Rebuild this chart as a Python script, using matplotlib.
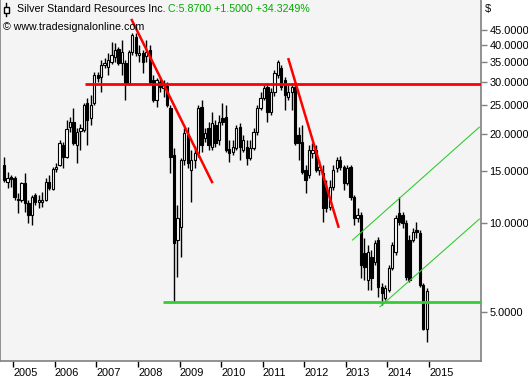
import matplotlib.pyplot as plt
import numpy as np
import pandas as pd
from matplotlib.patches import Rectangle
from matplotlib.lines import Line2D
from matplotlib.ticker import NullLocator

plt.rcParams['font.family'] = ['Liberation Sans', 'DejaVu Sans']

# Silver Standard Resources, monthly candles Oct 2004 - Dec 2014
opens = [15.71, 13.76, 14.31, 14.20, 11.96, 11.96, 13.65, 11.69, 10.64, 12.44, 11.78, 11.78,
         11.96, 13.76, 13.03, 15.23, 15.71, 18.36, 16.72, 21.12, 21.97, 18.36, 20.47, 20.63,
         25.47, 22.65, 25.47, 31.67, 31.19, 34.23, 33.71, 35.04, 36.44, 38.78, 34.76, 34.76,
         29.76, 37.88, 42.56, 37.00, 37.59, 36.72, 38.47, 30.46, 26.06, 29.99, 28.63, 29.07,
         24.49, 16.98, 8.76, 9.70, 16.34, 19.85, 15.11, 16.34, 17.25, 24.69, 19.39, 20.96,
         18.08, 21.45, 19.09, 22.65, 22.83, 17.80, 17.39, 17.93, 21.12, 17.66, 18.08, 16.59,
         17.93, 20.32, 24.49, 26.48, 28.85, 23.74, 27.75, 31.67, 33.45, 30.46, 26.68, 27.75,
         28.85, 19.85, 18.80, 15.11, 14.53, 17.25, 17.66, 15.11, 14.76, 13.24, 11.33, 13.24,
         15.35, 16.34, 15.47, 13.65, 15.47, 12.25, 10.40, 10.64, 7.91, 6.41, 7.67, 7.38,
         8.76, 6.07, 5.58, 5.93, 7.04, 7.98, 10.81, 10.64, 10.00, 8.76, 8.76, 9.47,
         9.25, 6.17, 4.37]
highs = [16.72, 14.88, 14.53, 14.42, 12.64, 13.76, 14.76, 11.96, 12.44, 12.64, 12.44, 12.74,
         14.20, 14.53, 15.47, 15.96, 19.09, 18.80, 22.31, 22.83, 24.49, 20.96, 21.62, 25.47,
         26.48, 27.10, 32.42, 32.42, 35.59, 36.15, 37.59, 40.95, 40.63, 39.39, 41.59, 35.59,
         38.47, 43.92, 43.92, 40.00, 38.47, 41.59, 40.00, 31.67, 30.94, 30.94, 30.46, 29.99,
         25.07, 17.93, 11.51, 16.59, 20.96, 21.12, 17.66, 18.22, 25.07, 26.06, 20.96, 21.97,
         23.74, 22.31, 23.19, 25.47, 25.07, 19.09, 19.09, 21.45, 21.79, 19.85, 19.09, 19.09,
         20.96, 25.07, 27.75, 29.29, 29.76, 28.63, 32.92, 35.59, 34.23, 31.19, 29.29, 29.76,
         29.76, 21.12, 21.45, 15.71, 18.36, 18.65, 18.36, 16.34, 15.71, 13.98, 13.98, 15.71,
         16.72, 16.85, 15.71, 15.71, 15.71, 12.44, 11.25, 10.90, 8.89, 8.42, 8.10, 8.76,
         8.97, 6.27, 6.17, 7.21, 8.63, 10.64, 12.25, 10.90, 10.24, 9.11, 9.62, 10.08,
         9.47, 6.27, 6.02]
lows = [13.76, 13.13, 13.24, 11.96, 10.81, 11.78, 10.90, 10.00, 9.85, 11.51, 11.25, 11.33,
        11.87, 12.93, 12.93, 14.88, 15.59, 15.35, 16.59, 20.32, 18.36, 15.96, 17.66, 20.32,
        18.36, 21.45, 25.07, 29.99, 27.75, 33.45, 31.67, 34.50, 35.04, 34.23, 31.67, 26.06,
        29.29, 37.00, 36.72, 35.04, 32.17, 35.04, 29.52, 25.66, 24.69, 27.75, 26.68, 24.69,
        14.76, 5.41, 6.57, 7.67, 15.71, 15.35, 11.78, 15.35, 16.72, 17.39, 18.80, 17.66,
        17.66, 18.08, 18.36, 21.45, 17.39, 16.09, 16.98, 17.66, 16.34, 17.39, 15.71, 16.34,
        17.66, 19.85, 24.11, 26.06, 21.97, 23.19, 26.89, 30.94, 28.18, 24.11, 26.06, 24.11,
        18.36, 16.34, 14.64, 12.64, 14.20, 16.59, 14.88, 14.53, 10.08, 10.90, 11.07, 12.93,
        14.88, 15.11, 12.93, 13.44, 11.96, 9.85, 10.08, 6.51, 6.41, 5.93, 5.93, 7.21,
        5.62, 5.28, 5.49, 5.84, 6.93, 7.79, 9.85, 9.62, 6.41, 6.31, 8.63, 8.89,
        6.07, 4.35, 3.96]
closes = [13.98, 14.20, 14.09, 12.25, 12.06, 13.65, 11.69, 10.64, 12.25, 11.78, 11.87, 11.96,
          13.76, 13.13, 15.23, 15.47, 18.65, 16.72, 20.79, 21.97, 18.65, 20.32, 20.96, 25.07,
          22.31, 25.07, 31.67, 30.94, 34.23, 34.76, 35.59, 37.00, 38.47, 34.76, 37.88, 29.76,
          37.88, 43.24, 37.59, 37.59, 35.04, 37.88, 29.99, 26.06, 30.46, 28.85, 29.29, 25.07,
          16.72, 8.56, 10.40, 16.34, 20.17, 15.96, 16.34, 17.25, 24.49, 18.36, 20.17, 18.36,
          21.79, 18.65, 21.97, 21.97, 17.66, 17.25, 18.08, 20.96, 18.08, 19.09, 16.59, 17.93,
          20.32, 24.49, 26.48, 28.63, 23.74, 27.75, 32.17, 35.04, 28.85, 27.10, 27.75, 28.85,
          18.65, 18.65, 14.88, 13.98, 17.66, 17.66, 15.11, 15.47, 11.25, 11.25, 13.24, 15.11,
          16.34, 15.47, 13.65, 15.35, 12.25, 10.40, 10.64, 7.21, 7.10, 7.98, 6.51, 8.56,
          6.07, 5.80, 6.02, 7.04, 8.42, 10.40, 10.08, 10.00, 6.57, 6.41, 9.32, 9.32,
          6.17, 4.37, 5.87]

year_ticks = list(range(2005, 2016))
price_ticks = [5, 10, 15, 20, 25, 30, 35, 40, 45]

# drawn lines (decimal year, price)
red_level = 29.6
green_level = 5.41
red_trend1 = [(2007.85, 48.6), (2009.78, 13.76)]
red_trend2 = [(2011.62, 35.8), (2012.82, 9.72)]
channel_up = [(2013.16, 8.76), (2016.21, 21.1)]
channel_low = [(2013.82, 5.21), (2016.21, 10.31)]

months = pd.date_range('2004-10-01', periods=len(opens), freq='MS')
x = np.asarray(months.year + (months.month - 1) / 12 + 0.03, dtype=float)
o = np.array(opens); h = np.array(highs); l = np.array(lows); c = np.array(closes)

fig = plt.figure(figsize=(5.28, 3.8), dpi=100)
ax = fig.add_axes([0, 19 / 380, 481 / 528, 361 / 380])
ax.set_facecolor('#f4f4f4')
ax.set_yscale('log')
ax.set_ylim(3.414, 56.8)
ax.set_xlim(2004.68, 2016.25)

ax.vlines(x, l, h, color='black', lw=1, zorder=2)
up = c >= o
bot = np.minimum(o, c)
hgt = np.maximum(np.abs(c - o), bot * 0.012)
ax.bar(x[up], hgt[up], bottom=bot[up], width=0.055, color='white',
       edgecolor='black', lw=0.8, zorder=3)
ax.bar(x[~up], hgt[~up], bottom=bot[~up], width=0.055, color='black',
       edgecolor='black', lw=0.8, zorder=3)

ax.hlines(red_level, 2006.73, 2016.25, color='#ff0000', lw=2, zorder=4)
ax.hlines(green_level, 2008.61, 2016.25, color='#33cc33', lw=2, zorder=4)
for seg in (red_trend1, red_trend2):
    ax.plot([p[0] for p in seg], [p[1] for p in seg], color='#ff0000', lw=1.8, zorder=4)
for seg in (channel_up, channel_low):
    ax.plot([p[0] for p in seg], [p[1] for p in seg], color='#33cc33', lw=0.8, zorder=4)

ax.yaxis.tick_right()
ax.set_yticks(price_ticks)
ax.set_yticklabels([f'{v:.4f}' for v in price_ticks])
ax.yaxis.set_minor_locator(NullLocator())
ax.tick_params(axis='y', direction='out', length=4, width=1, color='#808080',
               labelsize=7.9, pad=2, labelcolor='black')

ax.set_xticks(year_ticks)
ax.set_xticklabels([str(y) for y in year_ticks])
ax.xaxis.set_minor_locator(NullLocator())
ax.tick_params(axis='x', direction='out', length=4, width=1, color='black',
               labelsize=7.9, pad=1)
for lab in ax.get_xticklabels():
    lab.set_ha('left')

ax.spines['top'].set_visible(False)
for s in ('left', 'right', 'bottom'):
    ax.spines[s].set_color('#808080')
    ax.spines[s].set_linewidth(1.2)

# header
ax.add_line(Line2D([6 / 481, 6 / 481], [1 - 3 / 361, 1 - 16 / 361], transform=ax.transAxes,
                   color='black', lw=1, clip_on=False, zorder=6))
ax.add_patch(Rectangle((3.5 / 481, 1 - 12.5 / 361), 5 / 481, 6 / 361, transform=ax.transAxes,
                       facecolor='white', edgecolor='black', lw=1, zorder=7))
ax.text(17 / 481, 1 - 9.5 / 361, 'Silver Standard Resources Inc.', transform=ax.transAxes,
        fontsize=7.7, va='center', ha='left', color='black', zorder=6)
ax.text(168 / 481, 1 - 9.5 / 361, 'C:5.8700 +1.5000 +34.3249%', transform=ax.transAxes,
        fontsize=7.7, va='center', ha='left', color='#00aa00', zorder=6)
ax.text(3 / 481, 1 - 26.5 / 361, '\u00a9 www.tradesignalonline.com', transform=ax.transAxes,
        fontsize=7.7, va='center', ha='left', color='black', zorder=6)
fig.text(485 / 528, 1 - 9 / 380, '$', fontsize=7.9, va='center', ha='left')

fig.savefig('out.png', dpi=100)
